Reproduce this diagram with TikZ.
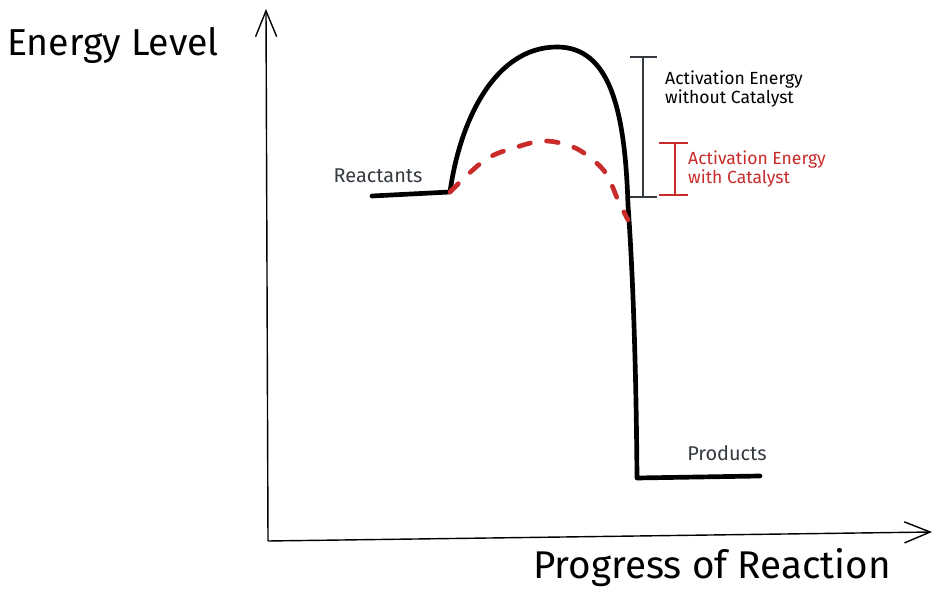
\documentclass[tikz,border=0pt]{standalone}
\usepackage{fontspec}
\setmainfont{Fira Sans}
\usetikzlibrary{arrows.meta}
\definecolor{inkred}{HTML}{C92A2A}
\definecolor{inkgray}{HTML}{343A40}
\begin{document}
\begin{tikzpicture}[x=0.03cm,y=-0.03cm,>={Straight Barb[length=22pt,width=18pt,line width=1.2pt]},
  axis/.style={line width=1.2pt,->},
  curve/.style={line width=4pt,line cap=round,line join=round},
  lbl/.style={font=\fontsize{15}{17}\selectfont,align=left,anchor=west,inner sep=0pt}]
\useasboundingbox (0,0) rectangle (940,600);
% axes
\coordinate (origin) at (268,541);
\coordinate (ytip) at (266,9);
\coordinate (xtip) at (932,532);
\draw[axis] (origin)--(ytip);
\draw[axis] (origin)--(xtip);
\node[font=\fontsize{32}{36}\selectfont,inner sep=0pt] (ylab) at (113,45) {Energy Level};
\node[font=\fontsize{33}{36}\selectfont,inner sep=0pt] (xlab) at (712,568) {Progress of Reaction};
% energy profile
\coordinate (react) at (372,196);
\coordinate (rise) at (450,192);
\coordinate (peak) at (557,47);
\coordinate (fall) at (628,220);
\coordinate (drop) at (628,205);
\coordinate (bottom) at (637,478);
\coordinate (prod) at (760,476);
\draw[curve] (react)--(rise) .. controls (460,120) and (495,47) .. (peak)
  .. controls (610,47) and (625,110) .. (drop)
  .. controls (632,260) and (636,350) .. (bottom) -- (prod);
\draw[curve,inkred,dash pattern=on 10pt off 14pt] plot[smooth,tension=0.6] coordinates {(rise) (485,160) (517,147) (545,141) (573,147) (593,160) (607,175) (618,200) (fall)};
\node[text=inkgray,font=\fontsize{17}{19}\selectfont,inner sep=0pt] (reactlbl) at (378,176) {Reactants};
\node[text=inkgray,font=\fontsize{17}{19}\selectfont,inner sep=0pt] (prodlbl) at (727,453) {Products};
% activation energy brackets
\coordinate (bktop) at (643,57);
\coordinate (bkbot) at (643,197);
\coordinate (rktop) at (675,143);
\coordinate (rkbot) at (675,195);
\draw[inkgray,line width=0.9pt] (bktop)--(bkbot) (630,57)--(657,57) (630,197)--(657,197);
\draw[inkred,line width=0.9pt] (rktop)--(rkbot) (659,143)--(688,143) (659,195)--(688,195);
\node[lbl] (ealbl) at (665,89) {Activation Energy\\without Catalyst};
\node[lbl,text=inkred] (ecatlbl) at (688,169) {Activation Energy\\with Catalyst};
\end{tikzpicture}
\end{document}
